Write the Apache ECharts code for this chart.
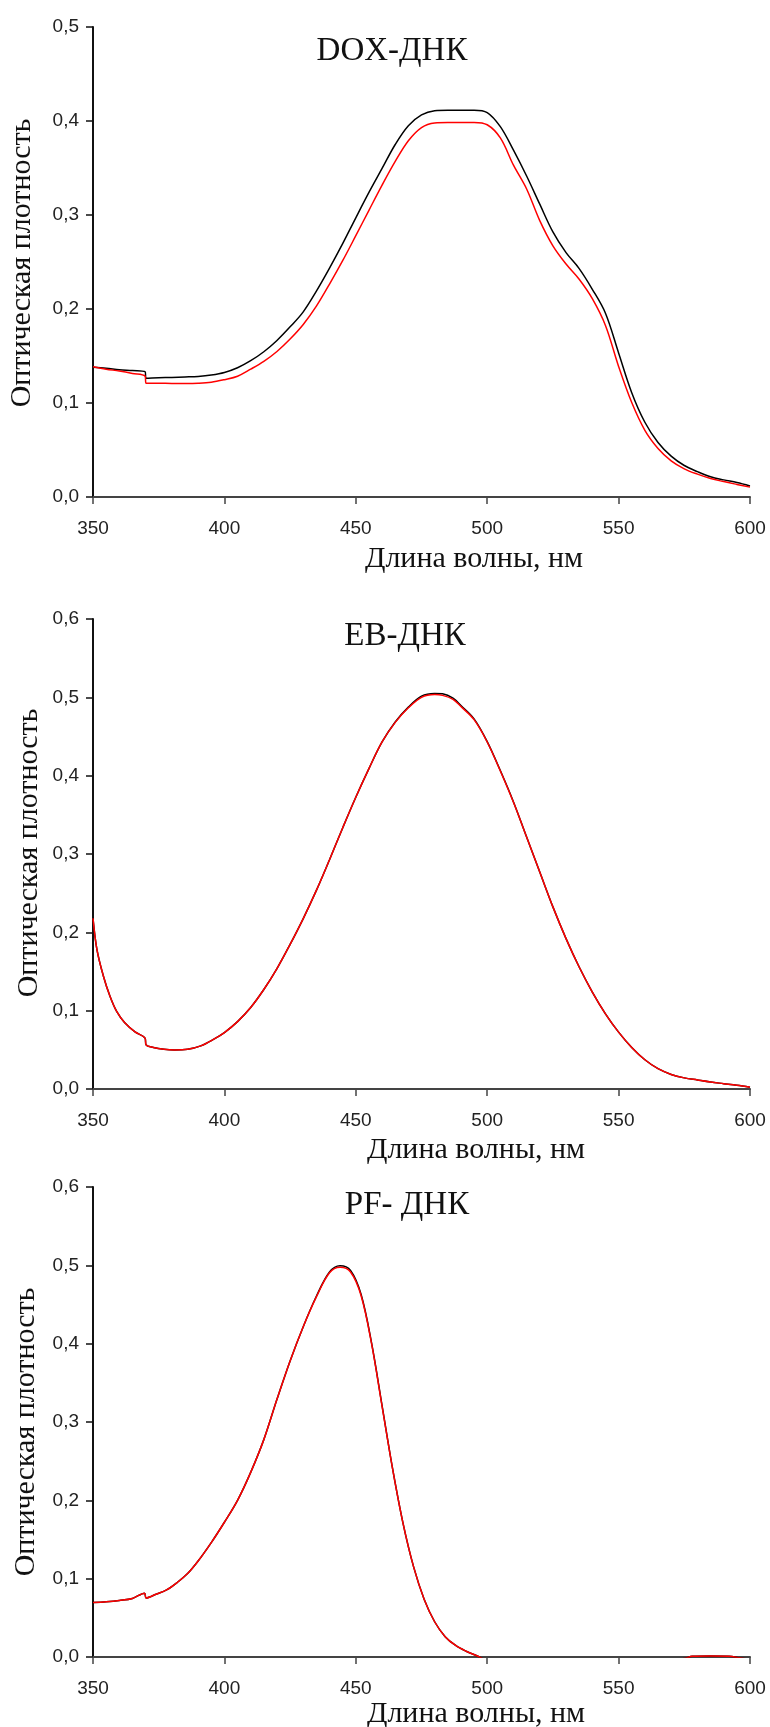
<!DOCTYPE html>
<html>
<head>
<meta charset="utf-8">
<title>Спектры поглощения</title>
<script src="https://cdn.jsdelivr.net/npm/echarts@6/dist/echarts.min.js"></script>
<style>
  html, body { margin: 0; padding: 0; background: #fff; }
  #chart { width: 770px; height: 1727px; }
</style>
</head>
<body>
<div id="chart"></div>
<script>
// подписи
var panelTitles = ['DOX-ДНК', 'EB-ДНК', 'PF- ДНК'];
var xName = 'Длина волны, нм';
var yName = 'Оптическая плотность';
var yMaxes = [0.5, 0.6, 0.6];

// DOX-ДНК
var wlDox = [350, 355, 360, 365, 369.8, 370.2, 375, 380, 385, 390, 395, 400, 405, 410, 415, 420, 425, 430, 435, 440,
    445, 450, 455, 460, 465, 470, 475, 480, 485, 490, 495, 500, 505, 510, 515, 520, 525, 530, 535, 540,
    545, 550, 555, 560, 565, 570, 575, 580, 585, 590, 595, 600];
var doxBlack = [0.138, 0.137, 0.1355, 0.1345, 0.1333, 0.1262, 0.1268, 0.1272, 0.1277, 0.1283, 0.1298, 0.1325, 0.1375, 0.145, 0.1545, 0.1665, 0.181, 0.197, 0.219, 0.2435,
    0.2695, 0.297, 0.324, 0.3495, 0.375, 0.395, 0.4065, 0.411, 0.4115, 0.4115, 0.4115, 0.409, 0.394, 0.369, 0.3415, 0.3115, 0.282, 0.26, 0.243, 0.221,
    0.1955, 0.1533, 0.111, 0.0795, 0.058, 0.0435, 0.0335, 0.027, 0.0215, 0.0182, 0.0154, 0.0118];
var doxRed = [0.1386, 0.136, 0.134, 0.1315, 0.1287, 0.121, 0.121, 0.1208, 0.1208, 0.121, 0.122, 0.1248, 0.1285, 0.136, 0.1443, 0.1548, 0.168, 0.1835, 0.203, 0.2265,
    0.2514, 0.278, 0.305, 0.3318, 0.357, 0.379, 0.393, 0.398, 0.3985, 0.3985, 0.3985, 0.396, 0.382, 0.353, 0.3277, 0.294, 0.2672, 0.2478, 0.2317, 0.211,
    0.1825, 0.1389, 0.1005, 0.071, 0.0517, 0.0385, 0.03, 0.0243, 0.0197, 0.0164, 0.0134, 0.0105];

// EB-ДНК
var wlEb = [350, 351.5, 354, 356.5, 359, 362, 366, 369.8, 370.2, 373, 377, 381, 386, 391, 396, 400, 405, 410, 415, 420,
    425, 430, 435, 440, 445, 450, 455, 460, 465, 470, 475, 480, 483, 487, 490, 495, 500, 505, 510, 515,
    520, 525, 530, 535, 540, 545, 550, 555, 560, 565, 570, 575, 580, 585, 590, 595, 600];
var ebBlack = [0.218, 0.178, 0.1436, 0.118, 0.099, 0.085, 0.073, 0.065, 0.0563, 0.053, 0.0507, 0.0499, 0.0507, 0.055, 0.0636, 0.072, 0.086, 0.104, 0.127, 0.1537,
    0.1846, 0.2176, 0.2535, 0.2927, 0.3333, 0.3725, 0.409, 0.443, 0.4685, 0.4875, 0.5015, 0.505, 0.5045, 0.499, 0.4895, 0.4725, 0.4435, 0.4065, 0.3665, 0.3217,
    0.277, 0.2325, 0.192, 0.1557, 0.1238, 0.096, 0.0726, 0.053, 0.0373, 0.0259, 0.0186, 0.0142, 0.0115, 0.0089, 0.0068, 0.0047, 0.0022];
var ebRed = [0.218, 0.178, 0.1436, 0.118, 0.099, 0.085, 0.073, 0.065, 0.0563, 0.053, 0.0507, 0.0499, 0.0507, 0.055, 0.0636, 0.072, 0.086, 0.104, 0.127, 0.1537,
    0.1846, 0.2176, 0.2535, 0.2927, 0.3333, 0.3725, 0.409, 0.443, 0.468, 0.4866, 0.5, 0.5035, 0.5025, 0.4975, 0.4883, 0.4715, 0.443, 0.406, 0.366, 0.3217,
    0.277, 0.2325, 0.192, 0.1557, 0.1238, 0.096, 0.0726, 0.053, 0.0373, 0.0259, 0.0186, 0.0142, 0.0115, 0.0089, 0.0068, 0.0047, 0.0022];

// PF-ДНК
var wlPf = [350, 355, 360, 365, 369.6, 370.2, 374, 378, 382, 386, 390, 395, 400, 405, 410, 415, 420, 425, 430, 435,
    440, 444, 448, 452, 456, 460, 464, 468, 472, 476, 480, 484, 488, 492, 496.5, 500, 520, 540, 560, 575,
    578, 585, 592, 596, 600];
var pfBlack = [0.0695, 0.0705, 0.0722, 0.0748, 0.0815, 0.0754, 0.0802, 0.0856, 0.095, 0.1065, 0.1225, 0.146, 0.172, 0.2, 0.2357, 0.2775, 0.329, 0.378, 0.4217, 0.4605,
    0.4915, 0.4995, 0.4935, 0.463, 0.401, 0.321, 0.2405, 0.1703, 0.115, 0.0738, 0.045, 0.026, 0.0147, 0.0074, 0.001, -0.004, -0.006, -0.006, -0.005, -0.002,
    0.0008, 0.0012, 0.001, -0.001, -0.003];
var pfRed = [0.0695, 0.0705, 0.0722, 0.0748, 0.0815, 0.0754, 0.0802, 0.0856, 0.095, 0.1065, 0.1225, 0.146, 0.172, 0.2, 0.2357, 0.2775, 0.329, 0.378, 0.4217, 0.4597,
    0.4905, 0.4975, 0.4915, 0.4615, 0.4, 0.32, 0.2403, 0.1703, 0.115, 0.0738, 0.045, 0.026, 0.0147, 0.0074, 0.001, -0.004, -0.006, -0.006, -0.005, -0.002,
    0.0008, 0.0012, 0.001, -0.001, -0.003];

function pairs(xs, ys) {
    var out = [];
    for (var i = 0; i < xs.length; i++) out.push([xs[i], ys[i]]);
    return out;
}

var chart = echarts.init(document.getElementById('chart'), null, { renderer: 'canvas' });

var grids = [
    { left: 93, right: 20, top: 27, height: 470 },
    { left: 93, right: 20, top: 619, height: 470 },
    { left: 93, right: 20, top: 1187, height: 470 }
];
var serif = '"Liberation Serif", "Times New Roman", serif';
var sans = '"Liberation Sans", Arial, sans-serif';

var xAxes = [], yAxes = [];
for (var i = 0; i < 3; i++) {
    xAxes.push({
        type: 'value', gridIndex: i, min: 350, max: 600, interval: 50,
        axisLine: { lineStyle: { color: '#444', width: 2 } },
        axisTick: { length: 7, lineStyle: { color: '#444', width: 1.5 } },
        axisLabel: { margin: 22, color: '#222', fontFamily: sans, fontSize: 19 },
        splitLine: { show: false }
    });
    yAxes.push({
        type: 'value', gridIndex: i, min: 0, max: yMaxes[i], interval: 0.1,
        axisLine: { show: true, lineStyle: { color: '#111', width: 2 } },
        axisTick: { show: true, length: 7, lineStyle: { color: '#111', width: 1.5 } },
        axisLabel: {
            margin: 14, color: '#222', fontFamily: sans, fontSize: 19,
            formatter: function (v) { return v.toFixed(1).replace('.', ','); }
        },
        splitLine: { show: false }
    });
}

var sets = [[wlDox, doxBlack, doxRed], [wlEb, ebBlack, ebRed], [wlPf, pfBlack, pfRed]];
var series = [];
sets.forEach(function (s, i) {
    series.push({
        type: 'line', xAxisIndex: i, yAxisIndex: i, data: pairs(s[0], s[1]),
        showSymbol: false, smooth: 0.35, clip: true,
        lineStyle: { color: '#000', width: 1.5 }
    });
    series.push({
        type: 'line', xAxisIndex: i, yAxisIndex: i, data: pairs(s[0], s[2]),
        showSymbol: false, smooth: 0.35, clip: true,
        lineStyle: { color: '#ff0000', width: 1.5 }
    });
});

// позиции подписей
var titlePos = [[392, 51], [405, 636], [407, 1205]];
var xNamePos = [[474, 559], [476, 1150], [476, 1714]];
var yNamePos = [[22, 263], [29, 853], [26, 1432]];

var texts = [];
for (var k = 0; k < 3; k++) {
    texts.push({
        type: 'text', x: titlePos[k][0], y: titlePos[k][1],
        style: { text: panelTitles[k], font: '33px ' + serif, fill: '#111', align: 'center', verticalAlign: 'middle' }
    });
    texts.push({
        type: 'text', x: xNamePos[k][0], y: xNamePos[k][1],
        style: { text: xName, font: '30px ' + serif, fill: '#111', align: 'center', verticalAlign: 'middle' }
    });
    texts.push({
        type: 'text', x: yNamePos[k][0], y: yNamePos[k][1], rotation: Math.PI / 2,
        style: { text: yName, font: '30px ' + serif, fill: '#111', align: 'center', verticalAlign: 'middle' }
    });
}

chart.setOption({
    animation: false,
    backgroundColor: '#fff',
    grid: grids,
    xAxis: xAxes,
    yAxis: yAxes,
    series: series,
    graphic: texts
});
</script>
</body>
</html>
